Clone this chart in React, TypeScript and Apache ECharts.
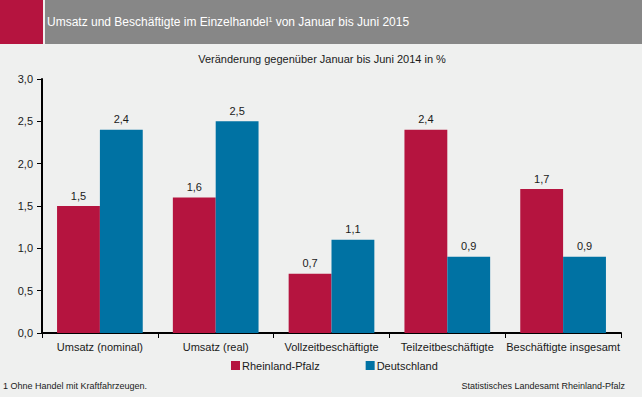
import React, { useEffect, useRef } from "react";
import * as echarts from "echarts";

const categories = ["Umsatz (nominal)", "Umsatz (real)", "Vollzeitbeschäftigte", "Teilzeitbeschäftigte", "Beschäftigte insgesamt"];
const rheinlandPfalz = [1.5, 1.6, 0.7, 2.4, 1.7];
const deutschland = [2.4, 2.5, 1.1, 0.9, 0.9];
const seriesNames = ["Rheinland-Pfalz", "Deutschland"];

const RED = "#b5143f";
const BLUE = "#0072a3";
const FONT = "Liberation Sans, Arial, sans-serif";
const TXT = "#1a1a1a";

export default function App() {
  const ref = useRef<HTMLDivElement>(null);
  useEffect(() => {
    const chart = echarts.init(ref.current!, null, { renderer: "svg" });
    const fmt = (v: any) => String(typeof v === "object" ? v.value : v).replace(".", ",");
    chart.setOption({
      animation: false,
      backgroundColor: "#eff0ef",
      textStyle: { fontFamily: FONT },
      graphic: [
        { type: "rect", shape: { x: 0, y: 0, width: 43, height: 44 }, style: { fill: "#b5143f" } },
        { type: "rect", shape: { x: 45, y: 0, width: 597, height: 44 }, style: { fill: "#878787" } },
        {
          type: "text", x: 47, y: 22,
          style: {
            text: "{t|Umsatz und Beschäftigte im Einzelhandel}{s|1}{t| von Januar bis Juni 2015}",
            verticalAlign: "middle",
            rich: {
              t: { fill: "#ffffff", fontSize: 12, fontFamily: FONT },
              s: { fill: "#ffffff", fontSize: 7, fontFamily: FONT, verticalAlign: "top", padding: [0, 0, 6, 0] },
            },
          },
        },
        { type: "text", x: 322, y: 59, style: { text: "Veränderung gegenüber Januar bis Juni 2014 in %", fill: TXT, fontSize: 11, fontFamily: FONT, align: "center", verticalAlign: "middle" } },
        { type: "text", x: 3, y: 386, style: { text: "1 Ohne Handel mit Kraftfahrzeugen.", fill: TXT, fontSize: 9, fontFamily: FONT, verticalAlign: "middle" } },
        { type: "text", x: 625, y: 386, style: { text: "Statistisches Landesamt Rheinland-Pfalz", fill: TXT, fontSize: 9, fontFamily: FONT, align: "right", verticalAlign: "middle" } },
      ],
      legend: {
        data: seriesNames,
        bottom: 21,
        left: 226,
        itemWidth: 9,
        itemHeight: 9,
        itemGap: 46,
        icon: "rect",
        textStyle: { color: TXT, fontSize: 11, fontFamily: FONT, padding: [0, 0, 0, -3] },
      },
      grid: { left: 42, right: 21, top: 79, bottom: 64 },
      xAxis: {
        type: "category",
        data: categories,
        axisLine: { lineStyle: { color: "#000", width: 2 } },
        axisTick: { show: true, length: 5, lineStyle: { color: "#000" } },
        axisLabel: { color: TXT, fontSize: 11, fontFamily: FONT, margin: 8, interval: 0 },
      },
      yAxis: {
        type: "value",
        min: 0,
        max: 3,
        interval: 0.5,
        axisLine: { show: true, lineStyle: { color: "#000", width: 2 } },
        axisTick: { show: true, length: 5, lineStyle: { color: "#000" } },
        splitLine: { show: false },
        axisLabel: { color: TXT, fontSize: 11, fontFamily: FONT, formatter: (v: number) => v.toFixed(1).replace(".", ","), margin: 9 },
      },
      series: [
        {
          name: seriesNames[0], type: "bar", data: rheinlandPfalz, itemStyle: { color: RED },
          barGap: "0%", barCategoryGap: "26%",
          label: { show: true, position: "top", color: TXT, fontSize: 11, fontFamily: FONT, formatter: (p: any) => fmt(p.value), distance: 5 },
        },
        {
          name: seriesNames[1], type: "bar", data: deutschland, itemStyle: { color: BLUE },
          barGap: "0%", barCategoryGap: "26%",
          label: { show: true, position: "top", color: TXT, fontSize: 11, fontFamily: FONT, formatter: (p: any) => fmt(p.value), distance: 5 },
        },
      ],
    });
    return () => chart.dispose();
  }, []);
  return <div ref={ref} style={{ position: "fixed", left: 0, top: 0, width: 642, height: 397 }} />;
}
